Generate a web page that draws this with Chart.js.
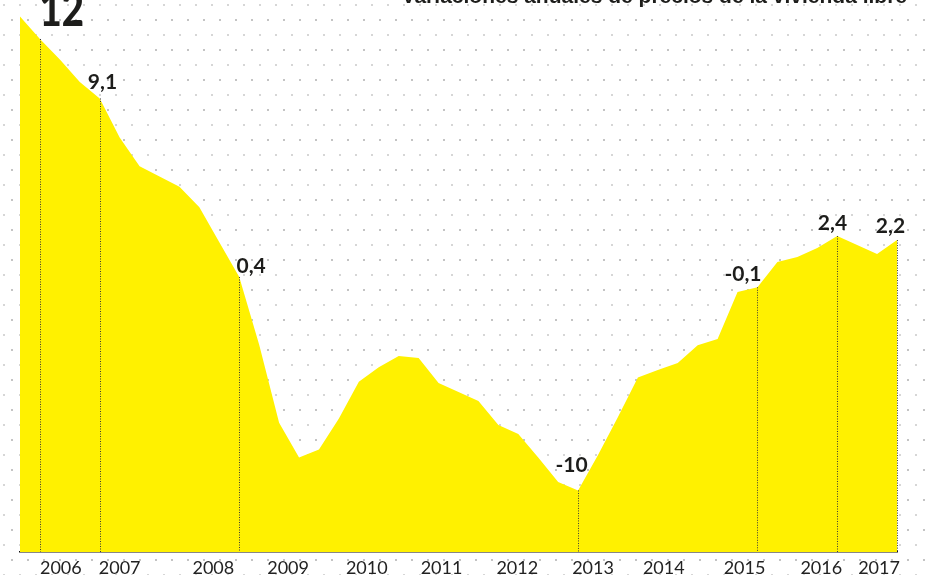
<!DOCTYPE html>
<html>
<head>
<meta charset="utf-8">
<script src="https://cdn.jsdelivr.net/npm/chart.js@4.4.1/dist/chart.umd.min.js"></script>
<style>
  html, body { margin: 0; padding: 0; overflow: hidden; }
  body {
    width: 925px; height: 575px;
    background-color: #fff;
    background-image:
      radial-gradient(circle, #c4c4c4 0.9px, transparent 1.4px),
      radial-gradient(circle, #d6d6d6 0.8px, transparent 1.3px);
    background-size: 16px 30px, 16px 30px;
    background-position: 4px 5px, 12px 20px;
  }
  canvas { display: block; }
</style>
</head>
<body>
<canvas id="myChart" width="925" height="575"></canvas>
<script>
// variación anual (%) por trimestre, desde finales de 2005 hasta 2017
var values = [13.1, 12, 11.0, 9.9, 9.1, 7.2, 5.8, 5.3, 4.8, 3.8, 2.1, 0.4,
  -2.9, -6.7, -8.4, -8.0, -6.5, -4.7, -4.0, -3.45, -3.55, -4.77, -5.2, -5.64,
  -6.81, -7.25, -8.4, -9.59, -10, -8.27, -6.42, -4.5, -4.13, -3.79, -2.92, -2.62,
  -0.33, -0.1, 1.13, 1.37, 1.81, 2.4, 1.96, 1.52, 2.2];

var years = ["2006", "2007", "2008", "2009", "2010", "2011", "2012", "2013", "2014", "2015", "2016", "2017"];
// where each year label sits, in quarter units along the x axis
var yearAt = [2.05, 5.0, 9.7, 13.45, 17.4, 21.15, 24.95, 28.75, 32.3, 36.35, 40.2, 43.1];

// highlighted points and their label text
var markIdx = [1, 4, 11, 28, 37, 41, 44];
var markText = ["12", "9,1", "0,4", "-10", "-0,1", "2,4", "2,2"];

var title = "Variaciones anuales de precios de la vivienda libre";

// label placement per mark: [dx, dy, align, font, horizontal squeeze]
var markPos = [[-1, -13, "left", "900 48px Lato", 0.8],
  [2, -9, "center", "bold 21px Lato", 1], [-3, -4, "left", "bold 21px Lato", 1],
  [-7, -18, "center", "bold 21px Lato", 1], [4, -6, "right", "bold 21px Lato", 1],
  [-5, -6, "center", "bold 21px Lato", 1], [-7, -7, "center", "bold 21px Lato", 1]];

var points = values.map(function (v, i) { return { x: i, y: v }; });

var marks = {
  id: "marks",
  afterDatasetsDraw: function (chart) {
    var ctx = chart.ctx;
    var xs = chart.scales.x, ys = chart.scales.y;
    var bottom = chart.chartArea.bottom;
    ctx.save();
    for (var k = 0; k < markIdx.length; k++) {
      var i = markIdx[k];
      var px = Math.round(xs.getPixelForValue(i)) + 0.5;
      var py = ys.getPixelForValue(values[i]);
      ctx.beginPath();
      ctx.setLineDash([1, 1.5]);
      ctx.strokeStyle = "#3a3a3a";
      ctx.lineWidth = 1;
      ctx.moveTo(px, py);
      ctx.lineTo(px, bottom);
      ctx.stroke();
      ctx.setLineDash([]);
      var p = markPos[k];
      ctx.save();
      ctx.translate(px + p[0], py + p[1]);
      ctx.scale(p[4], 1);
      ctx.fillStyle = "#1d1d1b";
      ctx.font = p[3];
      ctx.textAlign = p[2];
      ctx.textBaseline = "alphabetic";
      ctx.fillText(markText[k], 0, 0);
      ctx.restore();
    }
    ctx.fillStyle = "#1d1d1b";
    ctx.font = "bold 21px 'Liberation Sans'";
    ctx.textAlign = "right";
    ctx.fillText(title, 907, 3);
    ctx.restore();
  }
};

new Chart(document.getElementById("myChart"), {
  type: "line",
  data: {
    datasets: [{
      data: points,
      fill: "start",
      backgroundColor: "#fff100",
      borderWidth: 0,
      pointRadius: 0,
      tension: 0
    }]
  },
  options: {
    responsive: false,
    animation: false,
    devicePixelRatio: 1,
    layout: { padding: { left: 20, right: 28, top: 0, bottom: 0 } },
    plugins: { legend: { display: false }, tooltip: { enabled: false } },
    scales: {
      x: {
        type: "linear",
        min: 0,
        max: 44,
        grid: { display: false, drawTicks: false },
        border: { display: true, color: "#111", width: 1.5 },
        afterBuildTicks: function (scale) {
          scale.ticks = yearAt.map(function (v) { return { value: v }; });
        },
        afterFit: function (scale) { scale.height = 23; },
        ticks: {
          autoSkip: false,
          maxRotation: 0,
          padding: 7,
          color: "#222",
          font: { family: "Lato", size: 18, lineHeight: 1 },
          callback: function (v, i) { return years[i]; }
        }
      },
      y: {
        display: false,
        min: -13,
        max: 13.9
      }
    }
  },
  plugins: [marks]
});
</script>
</body>
</html>
